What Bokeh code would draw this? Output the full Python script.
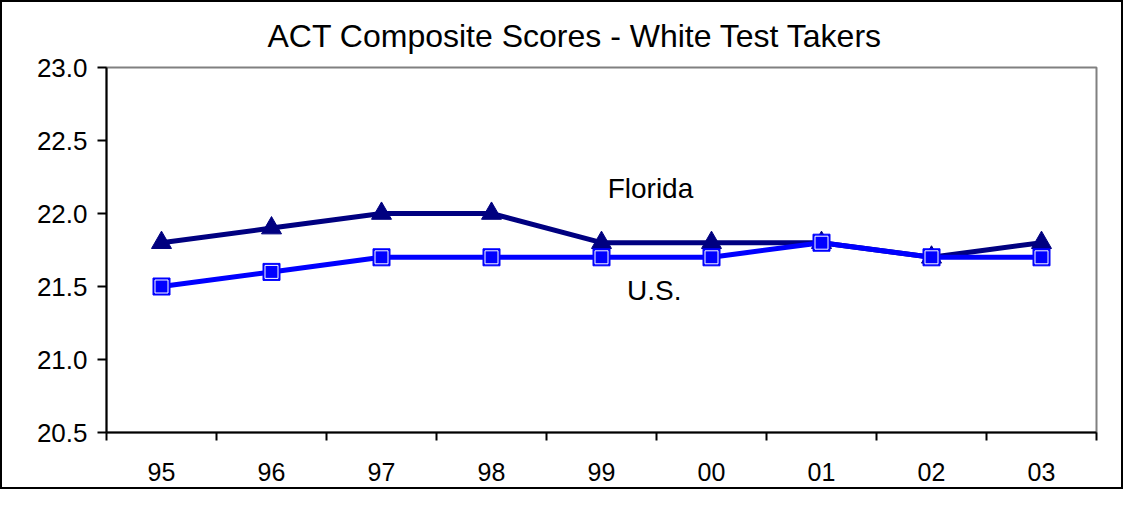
from bokeh.plotting import figure
from bokeh.models import FixedTicker, Range1d, ColumnDataSource
from bokeh.core.properties import value
from bokeh.embed import file_html
from bokeh.resources import INLINE

years = ["95", "96", "97", "98", "99", "00", "01", "02", "03"]
florida = [21.8, 21.9, 22.0, 22.0, 21.8, 21.8, 21.8, 21.7, 21.8]
us = [21.5, 21.6, 21.7, 21.7, 21.7, 21.7, 21.8, 21.7, 21.7]
y_ticks = [20.5, 21.0, 21.5, 22.0, 22.5, 23.0]

FONT = "Liberation Sans"
xs = [i + 0.5 for i in range(len(years))]

p = figure(width=1123, height=489, output_backend="svg", toolbar_location=None,
           x_range=Range1d(0, len(years)), y_range=Range1d(20.5, 23.0),
           min_border_left=104, min_border_right=29, min_border_top=64, min_border_bottom=59)
p.styles = {"border": "2px solid black"}

p.title.text = "ACT Composite Scores - White Test Takers"
p.title.align = "left"
p.title.offset = 161
p.title.text_font = FONT
p.title.text_font_size = "32px"
p.title.text_font_style = "normal"
p.title.text_color = "black"
p.title.standoff = 27

p.grid.visible = False
p.outline_line_color = "#808080"
p.outline_line_width = 2
p.background_fill_color = "white"
p.border_fill_color = "white"

# x axis
p.xaxis.ticker = FixedTicker(ticks=xs, minor_ticks=list(range(len(years) + 1)))
p.xaxis.major_label_overrides = {x: y for x, y in zip(xs, years)}
p.xaxis.major_tick_out = 0
p.xaxis.major_tick_in = 0
p.xaxis.minor_tick_out = 8
p.xaxis.minor_tick_in = 0
p.xaxis.minor_tick_line_color = "black"
p.xaxis.minor_tick_line_width = 2
p.xaxis.major_label_standoff = 22
# y axis
p.yaxis.ticker = FixedTicker(ticks=y_ticks, minor_ticks=[])
p.yaxis.major_label_overrides = {t: f"{t:.1f}" for t in y_ticks}
p.yaxis.major_tick_out = 9
p.yaxis.major_tick_in = 0
p.yaxis.major_tick_line_width = 2
p.yaxis.major_label_standoff = 10
for ax in (p.xaxis, p.yaxis):
    ax.axis_line_color = "black"
    ax.axis_line_width = 2
    ax.major_tick_line_color = "black"
    ax.major_label_text_font = FONT
    ax.major_label_text_font_size = "25px"
    ax.major_label_text_color = "black"
p.yaxis.major_label_text_font_size = "26px"

src = ColumnDataSource(dict(x=xs, fl=florida, us=us))

p.line("x", "fl", source=src, line_color="#000080", line_width=5)
p.scatter("x", "fl", source=src, marker="triangle", size=20,
          fill_color="#000080", line_color="#000080")

p.line("x", "us", source=src, line_color="#0000FF", line_width=5)
p.scatter("x", "us", source=src, marker="square", size=17,
          fill_color="#0000FF", line_color="#0000FF")
p.scatter("x", "us", source=src, marker="square", size=13,
          fill_color=None, line_color="white", line_width=1)

p.text(x=[4.945], y=[22.17], text=["Florida"], text_font=value(FONT),
       text_font_size="28px", text_align="center", text_baseline="middle", text_color="black")
p.text(x=[4.98], y=[21.47], text=["U.S."], text_font=value(FONT),
       text_font_size="28px", text_align="center", text_baseline="middle", text_color="black")

open("out.html", "w").write(file_html(p, INLINE))
